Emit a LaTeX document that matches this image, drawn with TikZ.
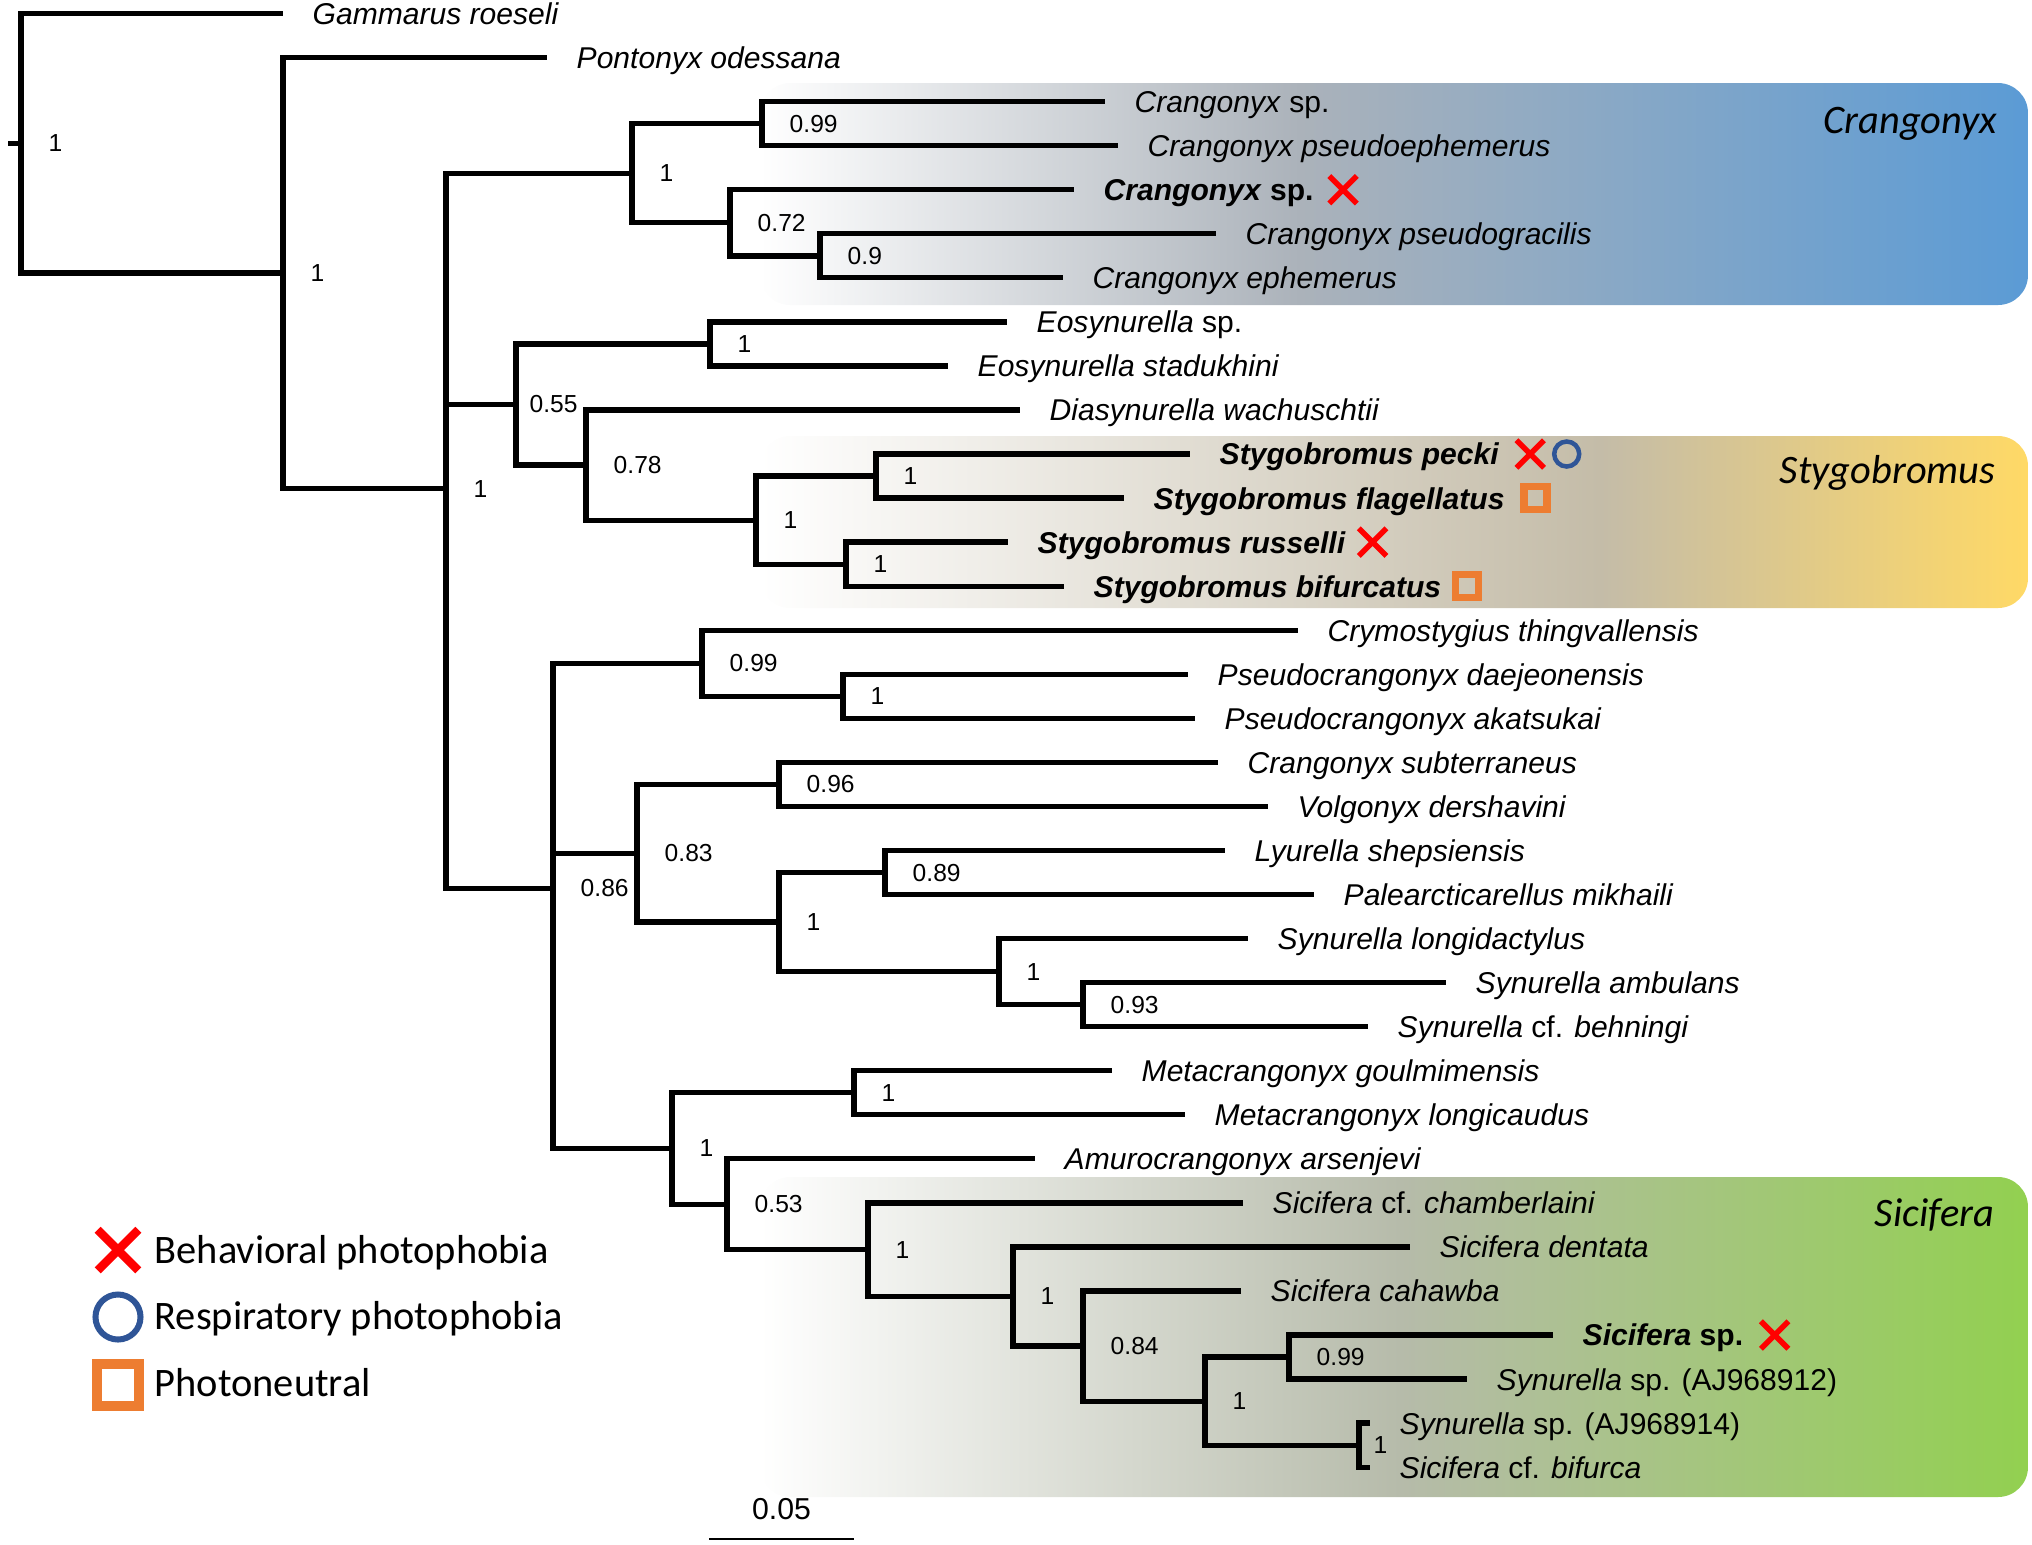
\documentclass[tikz,border=0pt]{standalone}
\usepackage{fontspec}
\setmainfont{Liberation Sans}
\newfontfamily\cladefont{Carlito}
\usepackage{tikz}
\usetikzlibrary{positioning,shapes.misc}

\definecolor{xred}{HTML}{FF0000}
\definecolor{oblue}{HTML}{2F5597}
\definecolor{sqorange}{HTML}{ED7D31}
\definecolor{crblue}{HTML}{5B9BD5}
\definecolor{crgray}{HTML}{ABB2BA}
\definecolor{styellow}{HTML}{FFD966}
\definecolor{stgray}{HTML}{C4BCA8}
\definecolor{sigreen}{HTML}{92D050}
\definecolor{sigray}{HTML}{B6BBAA}

\begin{document}
\begin{tikzpicture}[x=0.01cm, y=-0.01cm,
  branch/.style={line width=0.053cm},
  leaf/.style={font=\fontsize{8.55}{10}\selectfont\itshape, inner sep=0, text height=7.9pt, text depth=1.7pt},
  bs/.style={font=\fontsize{7}{8}\selectfont, inner sep=0},
  bmark/.style={draw=xred, cross out, line width=0.055cm, minimum size=0.22cm, inner sep=0},
  rmark/.style={draw=oblue, circle, line width=0.045cm, minimum size=0.25cm, inner sep=0},
  pmark/.style={draw=sqorange, rectangle, line width=0.075cm, minimum size=0.23cm, inner sep=0},
  clade/.style={font=\cladefont\itshape\fontsize{11.5}{13}\selectfont, inner sep=0, anchor=base east},
  key/.style={font=\cladefont\fontsize{11.5}{13}\selectfont, inner sep=0, anchor=base west}]
\useasboundingbox (0,0) rectangle (2032,1544);

% clade bands
\begin{scope}
\clip[rounded corners=0.3cm] (760,83) rectangle (2028,305);
\shade[left color=white, right color=crgray] (760,83) rectangle (1300,305);
\shade[left color=crgray, right color=crblue] (1300,83) rectangle (2028,305);
\end{scope}
\begin{scope}
\clip[rounded corners=0.3cm] (760,436) rectangle (2028,608);
\shade[left color=white, right color=stgray] (760,436) rectangle (1600,608);
\shade[left color=stgray, right color=styellow] (1600,436) rectangle (2028,608);
\end{scope}
\begin{scope}
\clip[rounded corners=0.3cm] (760,1177) rectangle (2028,1497);
\shade[left color=white, right color=sigray] (760,1177) rectangle (1400,1497);
\shade[left color=sigray, right color=sigreen] (1400,1177) rectangle (2028,1497);
\end{scope}
\node[clade] (cCr) at (1998,133) {Crangonyx};
\node[clade] (cSt) at (1996,483) {Stygobromus};
\node[clade] (cSi) at (1995,1226) {Sicifera};

% internal nodes
\coordinate (base) at (8,143.3);
\coordinate (root) at (21,143.3);
\coordinate (nA) at (283,273.1);
\coordinate (nB) at (446,488.7);
\coordinate (nC) at (632,173.2);
\coordinate (nC1) at (762,123.7);
\coordinate (nC2) at (730,222.7);
\coordinate (nC3) at (820,255.9);
\coordinate (nD) at (516,404.5);
\coordinate (nEo) at (710,344);
\coordinate (nE) at (586,465.1);
\coordinate (nSt) at (756,520.2);
\coordinate (nSt1) at (876,476.1);
\coordinate (nSt2) at (846,564.2);
\coordinate (nF) at (553,888.3);
\coordinate (nCr) at (702,663.2);
\coordinate (nPs) at (843,696.4);
\coordinate (nG) at (637,853.2);
\coordinate (nCV) at (779,784.5);
\coordinate (nH) at (779,922);
\coordinate (nLP) at (885,872.6);
\coordinate (nSy) at (999,971.6);
\coordinate (nSy2) at (1083,1004.7);
\coordinate (nI) at (672,1148.5);
\coordinate (nMe) at (854,1092.8);
\coordinate (nJ) at (727,1204.3);
\coordinate (nK) at (868,1249.7);
\coordinate (nL) at (1013,1296.5);
\coordinate (nM) at (1083,1346.1);
\coordinate (nN) at (1205,1401.2);
\coordinate (nO) at (1289,1357.1);
\coordinate (nP) at (1359,1445.2);

% tips
\coordinate (t0) at (283,13.5);
\coordinate (t1) at (547,57.6);
\coordinate (t2) at (1105,101.6);
\coordinate (t3) at (1118,145.7);
\coordinate (t4) at (1074,189.7);
\coordinate (t5) at (1216,233.8);
\coordinate (t6) at (1063,277.8);
\coordinate (t7) at (1007,321.9);
\coordinate (t8) at (948,365.9);
\coordinate (t9) at (1020,410);
\coordinate (t10) at (1190,454);
\coordinate (t11) at (1124,498.1);
\coordinate (t12) at (1008,542.1);
\coordinate (t13) at (1064,586.2);
\coordinate (t14) at (1298,630.2);
\coordinate (t15) at (1188,674.3);
\coordinate (t16) at (1195,718.3);
\coordinate (t17) at (1218,762.4);
\coordinate (t18) at (1268,806.4);
\coordinate (t19) at (1225,850.5);
\coordinate (t20) at (1314,894.5);
\coordinate (t21) at (1248,938.6);
\coordinate (t22) at (1446,982.6);
\coordinate (t23) at (1368,1026.7);
\coordinate (t24) at (1112,1070.7);
\coordinate (t25) at (1185,1114.8);
\coordinate (t26) at (1035,1158.8);
\coordinate (t27) at (1243,1202.9);
\coordinate (t28) at (1410,1246.9);
\coordinate (t29) at (1241,1291);
\coordinate (t30) at (1553,1335);
\coordinate (t31) at (1467,1379.1);
\coordinate (t32) at (1370,1423.1);
\coordinate (t33) at (1370,1467.2);

% branches
\draw[branch] (base) -- (root);
\draw[branch] (root) |- (t0) (root) |- (nA);
\draw[branch] (nA) |- (t1) (nA) |- (nB);
\draw[branch] (nB) |- (nC) (nB) |- (nD) (nB) |- (nF);
\draw[branch] (nC) |- (nC1) (nC) |- (nC2);
\draw[branch] (nC1) |- (t2) (nC1) |- (t3);
\draw[branch] (nC2) |- (t4) (nC2) |- (nC3);
\draw[branch] (nC3) |- (t5) (nC3) |- (t6);
\draw[branch] (nD) |- (nEo) (nD) |- (nE);
\draw[branch] (nEo) |- (t7) (nEo) |- (t8);
\draw[branch] (nE) |- (t9) (nE) |- (nSt);
\draw[branch] (nSt) |- (nSt1) (nSt) |- (nSt2);
\draw[branch] (nSt1) |- (t10) (nSt1) |- (t11);
\draw[branch] (nSt2) |- (t12) (nSt2) |- (t13);
\draw[branch] (nF) |- (nCr) (nF) |- (nG) (nF) |- (nI);
\draw[branch] (nCr) |- (t14) (nCr) |- (nPs);
\draw[branch] (nPs) |- (t15) (nPs) |- (t16);
\draw[branch] (nG) |- (nCV) (nG) |- (nH);
\draw[branch] (nCV) |- (t17) (nCV) |- (t18);
\draw[branch] (nH) |- (nLP) (nH) |- (nSy);
\draw[branch] (nLP) |- (t19) (nLP) |- (t20);
\draw[branch] (nSy) |- (t21) (nSy) |- (nSy2);
\draw[branch] (nSy2) |- (t22) (nSy2) |- (t23);
\draw[branch] (nI) |- (nMe) (nI) |- (nJ);
\draw[branch] (nMe) |- (t24) (nMe) |- (t25);
\draw[branch] (nJ) |- (t26) (nJ) |- (nK);
\draw[branch] (nK) |- (t27) (nK) |- (nL);
\draw[branch] (nL) |- (t28) (nL) |- (nM);
\draw[branch] (nM) |- (t29) (nM) |- (nN);
\draw[branch] (nN) |- (nO) (nN) |- (nP);
\draw[branch] (nO) |- (t30) (nO) |- (t31);
\draw[branch] (nP) |- (t32) (nP) |- (t33);

% support values
\node[bs, right=0.27cm of root] {1};
\node[bs, right=0.27cm of nA] {1};
\node[bs, right=0.27cm of nB] {1};
\node[bs, right=0.27cm of nC] {1};
\node[bs, right=0.27cm of nC1] {0.99};
\node[bs, right=0.27cm of nC2] {0.72};
\node[bs, right=0.27cm of nC3] {0.9};
\node[bs, right=0.13cm of nD] {0.55};
\node[bs, right=0.27cm of nEo] {1};
\node[bs, right=0.27cm of nE] {0.78};
\node[bs, right=0.27cm of nSt] {1};
\node[bs, right=0.27cm of nSt1] {1};
\node[bs, right=0.27cm of nSt2] {1};
\node[bs, right=0.27cm of nF] {0.86};
\node[bs, right=0.27cm of nCr] {0.99};
\node[bs, right=0.27cm of nPs] {1};
\node[bs, right=0.27cm of nG] {0.83};
\node[bs, right=0.27cm of nCV] {0.96};
\node[bs, right=0.27cm of nH] {1};
\node[bs, right=0.27cm of nLP] {0.89};
\node[bs, right=0.27cm of nSy] {1};
\node[bs, right=0.27cm of nSy2] {0.93};
\node[bs, right=0.27cm of nI] {1};
\node[bs, right=0.27cm of nMe] {1};
\node[bs, right=0.27cm of nJ] {0.53};
\node[bs, right=0.27cm of nK] {1};
\node[bs, right=0.27cm of nL] {1};
\node[bs, right=0.27cm of nM] {0.84};
\node[bs, right=0.27cm of nN] {1};
\node[bs, right=0.27cm of nO] {0.99};
\node[bs, right=0.14cm of nP] {1};

% taxa
\node[leaf, right=0.29cm of t0] (l0) {Gammarus roeseli};
\node[leaf, right=0.29cm of t1] (l1) {Pontonyx odessana};
\node[leaf, right=0.29cm of t2] (l2) {Crangonyx \textup{sp.}};
\node[leaf, right=0.29cm of t3] (l3) {Crangonyx pseudoephemerus};
\node[leaf, right=0.29cm of t4] (l4) {\textbf{Crangonyx \textup{sp.}}};
\node[leaf, right=0.29cm of t5] (l5) {Crangonyx pseudogracilis};
\node[leaf, right=0.29cm of t6] (l6) {Crangonyx ephemerus};
\node[leaf, right=0.29cm of t7] (l7) {Eosynurella \textup{sp.}};
\node[leaf, right=0.29cm of t8] (l8) {Eosynurella stadukhini};
\node[leaf, right=0.29cm of t9] (l9) {Diasynurella wachuschtii};
\node[leaf, right=0.29cm of t10] (l10) {\textbf{Stygobromus pecki}};
\node[leaf, right=0.29cm of t11] (l11) {\textbf{Stygobromus flagellatus}};
\node[leaf, right=0.29cm of t12] (l12) {\textbf{Stygobromus russelli}};
\node[leaf, right=0.29cm of t13] (l13) {\textbf{Stygobromus bifurcatus}};
\node[leaf, right=0.29cm of t14] (l14) {Crymostygius thingvallensis};
\node[leaf, right=0.29cm of t15] (l15) {Pseudocrangonyx daejeonensis};
\node[leaf, right=0.29cm of t16] (l16) {Pseudocrangonyx akatsukai};
\node[leaf, right=0.29cm of t17] (l17) {Crangonyx subterraneus};
\node[leaf, right=0.29cm of t18] (l18) {Volgonyx dershavini};
\node[leaf, right=0.29cm of t19] (l19) {Lyurella shepsiensis};
\node[leaf, right=0.29cm of t20] (l20) {Palearcticarellus mikhaili};
\node[leaf, right=0.29cm of t21] (l21) {Synurella longidactylus};
\node[leaf, right=0.29cm of t22] (l22) {Synurella ambulans};
\node[leaf, right=0.29cm of t23] (l23) {Synurella \textup{cf.} behningi};
\node[leaf, right=0.29cm of t24] (l24) {Metacrangonyx goulmimensis};
\node[leaf, right=0.29cm of t25] (l25) {Metacrangonyx longicaudus};
\node[leaf, right=0.29cm of t26] (l26) {Amurocrangonyx arsenjevi};
\node[leaf, right=0.29cm of t27] (l27) {Sicifera \textup{cf.} chamberlaini};
\node[leaf, right=0.29cm of t28] (l28) {Sicifera dentata};
\node[leaf, right=0.29cm of t29] (l29) {Sicifera cahawba};
\node[leaf, right=0.29cm of t30] (l30) {\textbf{Sicifera \textup{sp.}}};
\node[leaf, right=0.29cm of t31] (l31) {Synurella \textup{sp. (AJ968912)}};
\node[leaf, right=0.29cm of t32] (l32) {Synurella \textup{sp. (AJ968914)}};
\node[leaf, right=0.29cm of t33] (l33) {Sicifera \textup{cf.} bifurca};

% response marks
\node[bmark, right=0.15cm of l4] (x4) {};
\node[bmark, right=0.17cm of l10] (x10) {};
\node[rmark, right=0.08cm of x10] (o10) {};
\node[pmark, right=0.15cm of l11] (p11) {};
\node[bmark, right=0.13cm of l12] (x12) {};
\node[pmark, right=0.1cm of l13] (p13) {};
\node[bmark, right=0.17cm of l30] (x30) {};

% legend
\node[bmark, minimum size=0.32cm, line width=0.085cm] (kx) at (118,1250) {};
\node[key] (kxt) at (154,1263) {Behavioral photophobia};
\node[rmark, minimum size=0.45cm, line width=0.06cm] (ko) at (118,1317) {};
\node[key] (kot) at (154,1329) {Respiratory photophobia};
\node[pmark, minimum size=0.42cm, line width=0.1cm] (kp) at (118,1385) {};
\node[key] (kpt) at (154,1396) {Photoneutral};

% scale bar
\coordinate (sb1) at (709,1539);
\coordinate (sb2) at (854,1539);
\draw[line width=0.027cm] (sb1) -- (sb2) node[midway, above=0.18cm, inner sep=0, font=\fontsize{8.6}{10}\selectfont] {0.05};
\end{tikzpicture}
\end{document}
